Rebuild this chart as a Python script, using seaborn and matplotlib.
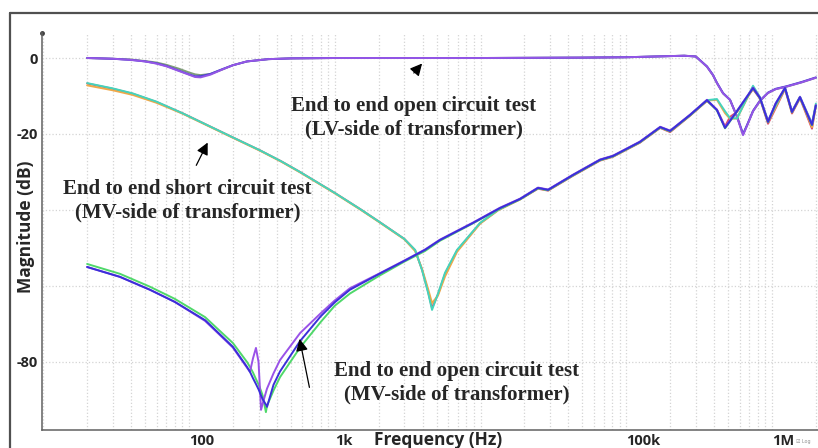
import numpy as np
import pandas as pd
import seaborn as sns
import matplotlib.pyplot as plt
from matplotlib.lines import Line2D
from matplotlib.ticker import FixedLocator, LogLocator, NullFormatter

# ---- data (frequency in Hz, magnitude in dB) ----
# LV-side, end to end open circuit
lv_freq = [20, 30, 40, 50, 60, 70, 85, 100, 110, 120, 140, 170, 200, 250, 350, 500,
           1000, 10000, 50000, 100000, 200000, 250000, 300000, 358000, 393000, 419000,
           461000, 515000, 575000, 633000, 680000, 741000, 827000, 939000, 1060000,
           1268000, 1600000, 2000000]
lv_purple = [0, -0.2, -0.5, -0.9, -1.5, -2.2, -3.4, -4.4, -5.0, -5.1, -4.4, -3.0, -1.9, -0.9,
             -0.3, -0.1, 0, 0, 0.1, 0.2, 0.5, 0.6, 0.4, -2.3, -4.5, -6.6, -9.3, -11.0,
             -15.5, -20.3, -17.5, -14.0, -11.3, -9.2, -8.2, -7.5, -6.4, -5.2]
lv_blue = [0, -0.2, -0.5, -0.9, -1.4, -2.1, -3.3, -4.3, -4.8, -4.8, -4.2, -2.9, -1.9, -0.9,
           -0.3, -0.1, 0, 0, 0.1, 0.2, 0.5, 0.6, 0.4, -2.2, -4.4, -6.5, -9.2, -11.0,
           -15.3, -20.0, -17.3, -13.9, -11.2, -9.1, -8.1, -7.4, -6.3, -5.1]
lv_green = [0, -0.2, -0.4, -0.8, -1.2, -1.8, -2.8, -3.8, -4.3, -4.5, -4.2, -3.0, -1.9, -0.9,
            -0.3, -0.1, 0, 0, 0.1, 0.2, 0.5, 0.6, 0.4, -2.3, -4.5, -6.6, -9.3, -11.0,
            -15.5, -20.1, -17.4, -14.0, -11.3, -9.2, -8.2, -7.5, -6.4, -5.2]

# MV-side, end to end short circuit
sc_freq = [20, 30, 41, 60, 91, 150, 200, 307, 430, 578, 1000, 1500, 2000, 3000, 3560, 3970,
           4370, 4650, 5110, 5710, 6900, 9930, 13200, 18700, 24800, 29100, 43100, 66100,
           81100, 124000, 171000, 200000, 274000, 358000, 419000, 476000, 515000,
           575000, 741000, 827000, 939000, 1228000, 1371000, 1556000, 1881000, 2000000]
sc_teal = [-6.6, -8.0, -9.3, -11.5, -14.6, -18.6, -20.9, -24.3, -27.2, -30.0, -35.5, -39.8,
           -43.0, -47.6, -50.5, -55.8, -61.8, -66.3, -62.0, -56.5, -50.5, -43.4, -40.0,
           -37.1, -34.2, -34.7, -30.8, -26.8, -25.8, -22.1, -18.2, -19.2, -15.0, -11.1,
           -10.8, -14.0, -15.8, -15.9, -7.3, -10.3, -16.5, -7.8, -14.0, -10.2, -17.2, -12.0]
sc_orange = [-7.2, -8.5, -9.7, -11.8, -14.7, -18.7, -21.0, -24.4, -27.3, -30.1, -35.6, -39.9,
             -43.1, -47.7, -50.8, -55.5, -60.8, -64.5, -62.5, -57.5, -51.0, -43.6, -40.1,
             -37.2, -34.3, -34.8, -30.9, -26.9, -25.9, -22.2, -18.3, -19.3, -15.1, -11.2,
             -11.0, -14.5, -16.0, -15.9, -7.6, -10.5, -16.9, -8.0, -14.3, -10.4, -18.2, -12.3]
sc_red = [-6.7, -8.1, -9.4, -11.6, -14.6, -18.6, -20.9, -24.3, -27.2, -30.0, -35.5, -39.8,
          -43.0, -47.6, -50.6, -55.7, -61.5, -65.8, -62.2, -56.8, -50.7, -43.5, -40.0,
          -37.2, -34.4, -34.9, -31.0, -27.0, -26.0, -22.3, -18.4, -19.5, -15.2, -11.3,
          -13.6, -18.0, -15.5, -14.2, -8.2, -10.7, -17.3, -8.2, -14.6, -10.6, -18.6, -12.6]

# MV-side, end to end open circuit
mv_freq = [20, 33.6, 54, 80, 129, 170, 200, 250, 262, 275, 288, 300, 312, 320, 337, 343,
           380, 421, 578, 800, 1000, 1270, 2000, 3000, 4160, 5270, 8890, 13600, 18700,
           24800, 29100, 43100, 66100, 81100, 124000, 171000, 200000, 274000, 358000,
           419000, 476000, 575000, 741000, 827000, 939000, 1060000, 1228000, 1371000,
           1556000, 1881000, 2000000]
mv_blue = [-55.0, -57.6, -61.0, -64.2, -69.0, -73.4, -76.0, -81.3, -82.6, -84.3, -85.8, -87.2,
           -88.8, -89.8, -91.2, -91.8, -86.0, -82.5, -74.5, -68.0, -64.3, -61.0, -56.9,
           -53.4, -50.5, -47.9, -43.4, -39.5, -37.1, -34.2, -34.7, -30.8, -26.8, -25.8,
           -22.1, -18.2, -19.2, -15.0, -11.1, -13.7, -18.4, -14.0, -7.9, -10.5, -16.8,
           -12.0, -7.9, -14.2, -10.3, -17.6, -12.5]
mv_purple = [-55.0, -57.6, -61.0, -64.2, -69.2, -73.6, -76.2, -81.5, -82.6, -79.0, -76.3,
             -80.0, -92.6, -91.0, -88.0, -87.0, -83.0, -79.5, -72.4, -67.2, -63.8, -60.6,
             -56.8, -53.3, -50.4, -47.8, -43.3, -39.4, -37.0, -34.1, -34.6, -30.7, -26.7,
             -25.7, -22.0, -18.1, -19.1, -14.9, -11.0, -13.6, -18.2, -13.9, -7.8, -10.4,
             -16.6, -11.9, -7.8, -14.1, -10.2, -17.4, -12.4]
mv_green = [-54.2, -56.8, -60.2, -63.4, -68.2, -72.5, -75.0, -80.0, -81.3, -82.8, -84.5,
            -85.9, -87.6, -88.8, -93.2, -91.5, -87.5, -84.0, -76.2, -69.5, -65.2, -62.0,
            -57.4, -53.6, -50.8, -48.1, -43.5, -39.6, -37.2, -34.3, -34.8, -30.9, -26.9,
            -25.9, -22.2, -18.3, -19.3, -15.1, -11.2, -13.8, -18.5, -14.1, -8.0, -10.6,
            -16.9, -12.1, -8.0, -14.3, -10.4, -17.7, -12.6]

traces = [
    (lv_freq, lv_green, '#7f9c78'),
    (lv_freq, lv_blue, '#4b3fd6'),
    (lv_freq, lv_purple, '#9456e6'),
    (sc_freq, sc_red, '#d94a6a'),
    (sc_freq, sc_orange, '#f0a848'),
    (sc_freq, sc_teal, '#44d4bc'),
    (mv_freq, mv_green, '#4fd86a'),
    (mv_freq, mv_purple, '#9a52e8'),
    (mv_freq, mv_blue, '#3b2fd9'),
]

sns.set_style('white')
plt.rcParams['font.family'] = ['Open Sans', 'DejaVu Sans']

fig = plt.figure(figsize=(8.18, 4.48), dpi=100)
ax = fig.add_axes([42 / 818, 1 - 430 / 448, 776 / 818, 397 / 448])

for f, db, col in traces:
    sns.lineplot(x=f, y=db, ax=ax, color=col, lw=1.4, sort=False, estimator=None)

ax.set_xscale('log')
ax.set_xlim(10 ** 0.9914, 10 ** 6.3156)
ax.set_ylim(-97.9, 6.58)

# grid
ax.xaxis.set_major_locator(FixedLocator([10, 100, 1000, 10000, 100000, 1000000]))
ax.xaxis.set_minor_locator(LogLocator(base=10, subs=np.arange(2, 10), numticks=20))
ax.xaxis.set_minor_formatter(NullFormatter())
ax.set_xticklabels(['', '100', '1k', '', '100k', '1M'])
ax.set_yticks([0, -20, -40, -60, -80])
ax.set_yticklabels(['0', '-20', '', '', '-80'])
ax.grid(True, which='both', axis='x', color='#d4d4d4', ls=':', lw=0.9)
ax.grid(True, which='major', axis='y', color='#d4d4d4', ls=':', lw=0.9)
ax.tick_params(axis='both', which='both', length=0)
ax.tick_params(axis='x', pad=3, labelsize=10.5)
ax.tick_params(axis='y', pad=3, labelsize=10.5)
for lbl in ax.get_xticklabels():
    lbl.set_ha('left')
    lbl.set_fontweight('bold')
for lbl in ax.get_yticklabels():
    lbl.set_fontweight('bold')

for side in ['top', 'right']:
    ax.spines[side].set_visible(False)
for side in ['left', 'bottom']:
    ax.spines[side].set_color('#606060')
    ax.spines[side].set_linewidth(1.1)
ax.plot([0], [1], marker='o', ms=2.5, color='#404040', transform=ax.transAxes, clip_on=False)

# axis titles
fig.text(438 / 818, 1 - 440 / 448, 'Frequency (Hz)', ha='center', va='center',
         fontsize=12.5, fontweight='bold')
fig.text(26 / 818, 1 - 227 / 448, 'Magnitude (dB)', ha='center', va='center',
         rotation=90, fontsize=12.5, fontweight='bold')
fig.text(803 / 818, 1 - 441 / 448, '\u2611 Log', ha='center', va='center',
         fontsize=3.5, color='#909090', family=['DejaVu Sans'])

# annotations
serif = dict(family='Liberation Serif', fontweight='bold', fontsize=15,
             ha='center', va='center', linespacing=1.25)
ax.text(3500, -15.7, 'End to end open circuit test\n(LV-side of transformer)', **serif)
ax.text(98, -37.6, 'End to end short circuit test\n(MV-side of transformer)', **serif)
ax.text(6900, -85.5, 'End to end open circuit test\n(MV-side of transformer)', **serif)

arrow = dict(arrowstyle='-|>', color='black', lw=0.9, mutation_scale=18)
ax.annotate('', xy=(4090, -0.9), xytext=(3390, -4.5), arrowprops=arrow)
ax.annotate('', xy=(137, -21.6), xytext=(110, -28.9), arrowprops=arrow)
ax.annotate('', xy=(569, -73.2), xytext=(676, -87.4), arrowprops=arrow)

# outer frame
fig.add_artist(Line2D([10 / 818, 10 / 818], [0, 1 - 13 / 448], color='#505050', lw=1.6))
fig.add_artist(Line2D([10 / 818, 1], [1 - 13 / 448, 1 - 13 / 448], color='#505050', lw=1.6))

fig.savefig('out.png', dpi=100)
